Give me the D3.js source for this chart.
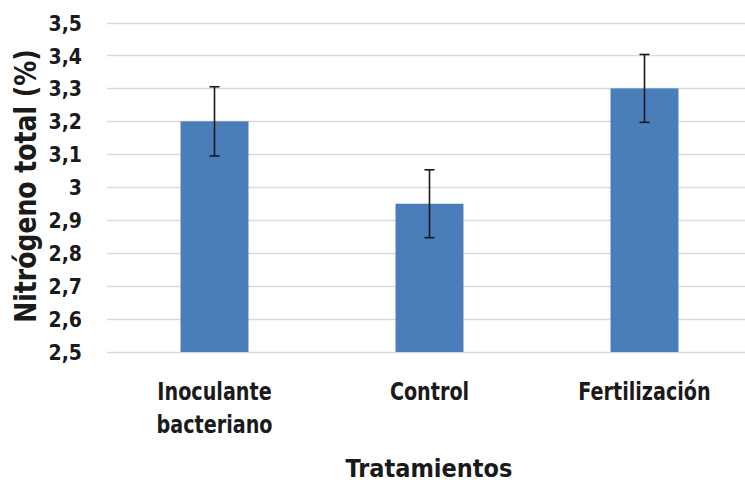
<!DOCTYPE html>
<html>
<head>
<meta charset="utf-8">
<script src="https://cdn.jsdelivr.net/npm/d3@7"></script>
<style>
body { margin: 0; background: #fff; }
text { font-family: "DejaVu Sans Condensed", "Liberation Sans Narrow", sans-serif; font-weight: bold; fill: #1a1a1a; }
</style>
</head>
<body>
<svg id="chart"></svg>
<script>
// datos
var categorias = [["Inoculante", "bacteriano"], ["Control"], ["Fertilización"]];
var valores = [3.2, 2.95, 3.3];
var errores = [0.105, 0.103, 0.103];
var ticksY = [2.5, 2.6, 2.7, 2.8, 2.9, 3.0, 3.1, 3.2, 3.3, 3.4, 3.5];

var svgWidth = 745, svgHeight = 484;

var svg = d3.select("#chart")
    .attr("width", svgWidth)
    .attr("height", svgHeight);

var x = d3.scaleBand()
    .domain(d3.range(valores.length))
    .range([107, 752])
    .paddingInner(0.684)
    .paddingOuter(0.342);

var y = d3.scaleLinear()
    .domain([2.5, 3.5])
    .range([352, 22.5]);

var fmt = function(d) { return d3.format("~g")(d).replace(".", ","); };

// lineas de cuadricula
svg.append("g")
    .selectAll("line")
    .data(ticksY)
    .enter()
    .append("line")
    .attr("x1", 107)
    .attr("x2", 752)
    .attr("y1", function(d) { return Math.round(y(d)) + 0.5; })
    .attr("y2", function(d) { return Math.round(y(d)) + 0.5; })
    .attr("stroke", "#d9dbd5")
    .attr("stroke-width", 1.5);

// eje y
var y_axis = d3.axisLeft(y)
    .tickValues(ticksY)
    .tickFormat(fmt)
    .tickSize(0)
    .tickPadding(0);

var gy = svg.append("g")
    .attr("transform", "translate(82,0)")
    .call(y_axis);
gy.select(".domain").remove();
gy.selectAll("text")
    .attr("font-size", 21)
    .attr("dy", "0.36em");

// barras
svg.append("g")
    .selectAll("rect")
    .data(valores)
    .enter()
    .append("rect")
    .attr("x", function(d, i) { return x(i); })
    .attr("y", function(d) { return y(d); })
    .attr("width", x.bandwidth())
    .attr("height", function(d) { return y(2.5) - y(d); })
    .attr("fill", "#4a7ebb");

// barras de error
var eg = svg.append("g")
    .selectAll("g")
    .data(valores)
    .enter()
    .append("g")
    .attr("stroke", "#1a1a1a")
    .attr("stroke-width", 1.6);

eg.append("line")
    .attr("x1", function(d, i) { return x(i) + x.bandwidth() / 2; })
    .attr("x2", function(d, i) { return x(i) + x.bandwidth() / 2; })
    .attr("y1", function(d, i) { return y(d + errores[i]); })
    .attr("y2", function(d, i) { return y(d - errores[i]); });
eg.append("line")
    .attr("x1", function(d, i) { return x(i) + x.bandwidth() / 2 - 5; })
    .attr("x2", function(d, i) { return x(i) + x.bandwidth() / 2 + 5; })
    .attr("y1", function(d, i) { return y(d + errores[i]); })
    .attr("y2", function(d, i) { return y(d + errores[i]); });
eg.append("line")
    .attr("x1", function(d, i) { return x(i) + x.bandwidth() / 2 - 5; })
    .attr("x2", function(d, i) { return x(i) + x.bandwidth() / 2 + 5; })
    .attr("y1", function(d, i) { return y(d - errores[i]); })
    .attr("y2", function(d, i) { return y(d - errores[i]); });

// etiquetas de categorias (algo comprimidas, como Calibri)
var labels = svg.append("g")
    .selectAll("g")
    .data(categorias)
    .enter()
    .append("g")
    .attr("transform", function(d, i) {
        return "translate(" + (x(i) + x.bandwidth() / 2) + ",400) scale(0.87,1)";
    })
    .append("text")
    .attr("text-anchor", "middle")
    .attr("font-size", 24.5);

labels.selectAll("tspan")
    .data(function(d) { return d; })
    .enter()
    .append("tspan")
    .attr("x", 0)
    .attr("dy", function(d, i) { return i === 0 ? 0 : 33; })
    .text(function(d) { return d; });

// titulos de ejes
svg.append("text")
    .attr("text-anchor", "middle")
    .attr("font-size", 25)
    .attr("x", 429)
    .attr("y", 477)
    .text("Tratamientos");

svg.append("text")
    .attr("text-anchor", "middle")
    .attr("font-size", 30)
    .attr("transform", "translate(36,186) rotate(-90) scale(0.93,1)")
    .text("Nitrógeno total (%)");
</script>
</body>
</html>
